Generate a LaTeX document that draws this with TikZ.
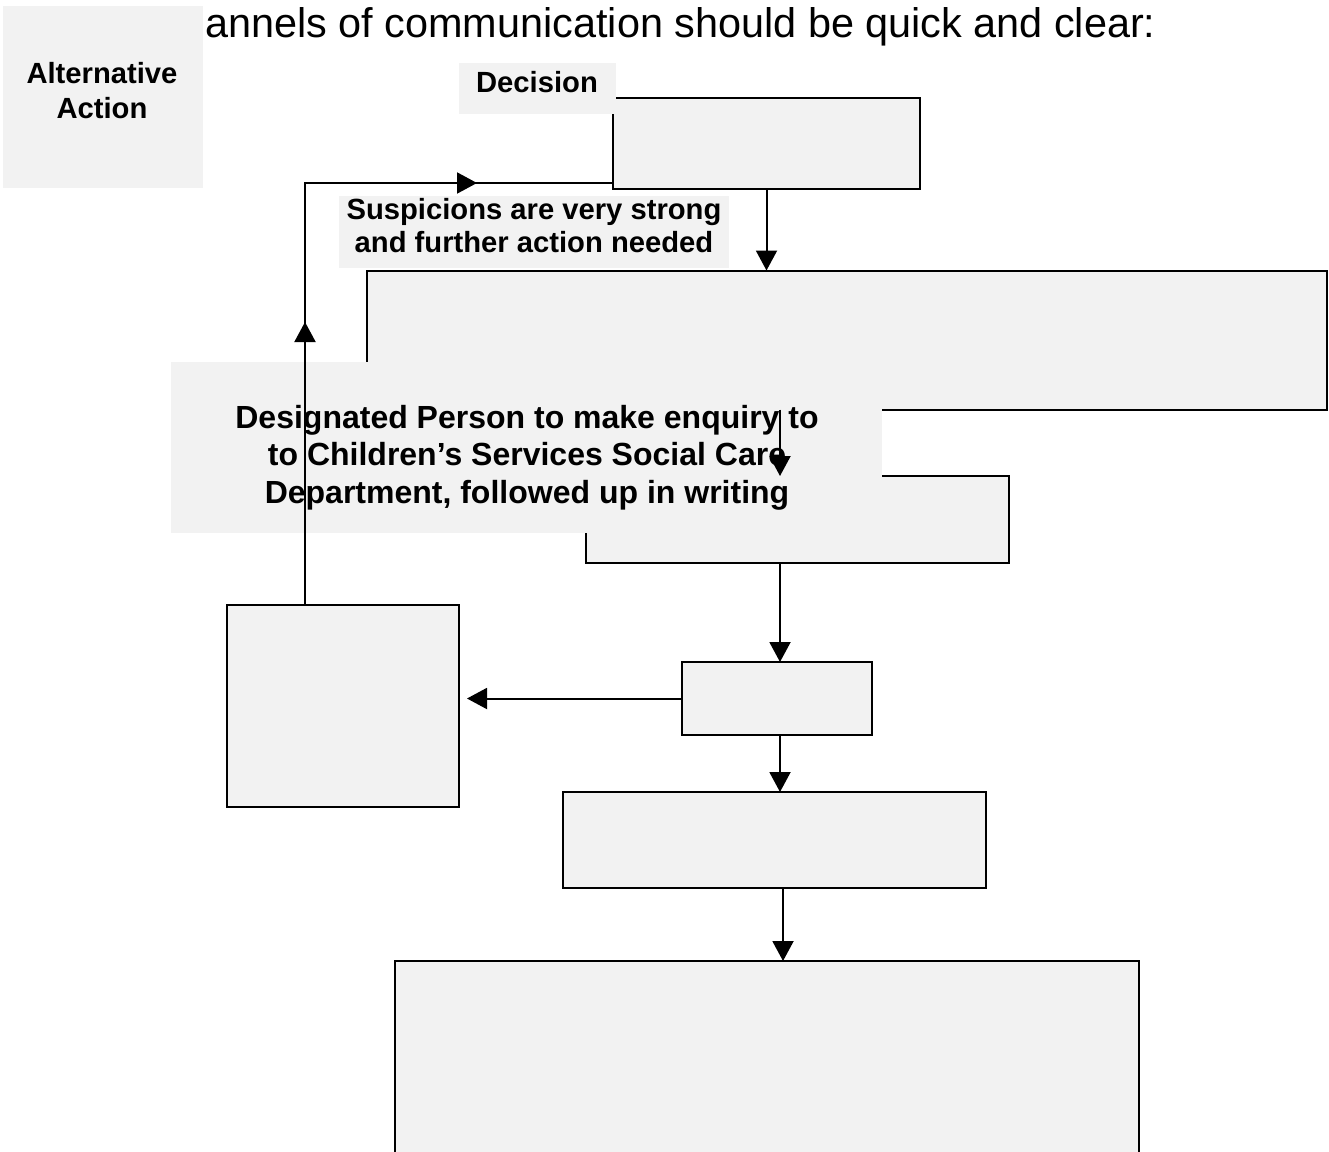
\documentclass[tikz,border=0pt]{standalone}
\usepackage{fontspec}
\setmainfont{Liberation Sans}
\usetikzlibrary{arrows.meta}
\definecolor{boxgray}{HTML}{F2F2F2}
\begin{document}
\begin{tikzpicture}[x=1pt,y=-1pt,
  box/.style={draw=black, line width=2pt, fill=boxgray, rectangle, anchor=north west, inner sep=0pt, outer sep=0pt},
  lab/.style={fill=boxgray, rectangle, anchor=north west, inner sep=0pt, outer sep=0pt},
  txt/.style={font=\bfseries\fontsize{29.2}{34}\selectfont, align=center, inner sep=0pt, anchor=north},
  conn/.style={line width=2pt},
  arr/.style={line width=2pt, -{Triangle[length=20pt,width=21pt]}},
]
\useasboundingbox (0,0) rectangle (1329,1151);
\clip (0,0) rectangle (1329,1151);
\fill[white] (0,0) rectangle (1329,1151);

% title
\node[anchor=base west, inner sep=0pt, font=\fontsize{41.4}{48}\selectfont] (title) at (205,37.5) {annels of communication should be quick and clear:};

% boxes
\node[box, minimum width=307pt, minimum height=91pt] (dec) at (613,98) {};
\node[box, minimum width=960pt, minimum height=139pt] (big1) at (367,270.5) {};
\node[box, minimum width=423pt, minimum height=87pt] (box2) at (586,476) {};
\node[box, minimum width=190pt, minimum height=73pt] (box3) at (682,662) {};
\node[box, minimum width=232pt, minimum height=202pt] (lbox) at (227,605) {};
\node[box, minimum width=423pt, minimum height=96pt] (box4) at (563,792) {};
\node[box, minimum width=744pt, minimum height=260pt] (box5) at (395,961) {};

% labels
\node[lab, minimum width=200pt, minimum height=182pt] (altlab) at (3,6) {};
\node[lab, minimum width=157pt, minimum height=51pt] (declab) at (459,63) {};
\node[lab, minimum width=390pt, minimum height=72pt] (suslab) at (339,196) {};
\node[lab, minimum width=711pt, minimum height=171pt] (deslab) at (171,362) {};

\node[txt, font=\bfseries\fontsize{29.2}{35}\selectfont] (alttxt) at (102,62) {Alternative\\Action};
\node[txt, anchor=base] (dectxt) at (537,92) {Decision};
\node[txt, font=\bfseries\fontsize{29.2}{33}\selectfont] (sustxt) at (534,198) {Suspicions are very strong\\and further action needed};
\node[txt, font=\bfseries\fontsize{32}{37.5}\selectfont] (destxt) at (527,405) {Designated Person to make enquiry to\\to Children’s Services Social Care\\Department, followed up in writing};

% connectors
\coordinate (ax) at (780,0);
\coordinate (ax2) at (783,0);
\draw[arr] (dec.south) -- (dec.south |- big1.north);
\draw[arr] (big1.south -| ax) -- (box2.north -| ax);
\draw[arr] (box2.south -| ax) -- (box3.north -| ax);
\draw[arr, shorten >=8pt] (box3.west) -- (box3.west -| lbox.east);
\draw[arr] (box3.south -| ax) -- (box4.north -| ax);
\draw[arr] (box4.south -| ax2) -- (box5.north -| ax2);

\coordinate (corner) at (305,183);
\coordinate (upmid) at (305,322);
\coordinate (rmid) at (477,183);
\draw[conn] (lbox.north -| corner) -- (corner) -- (corner -| dec.west);
\draw[arr] (lbox.north -| corner) -- (upmid);
\draw[arr] (corner) -- (rmid);
\end{tikzpicture}
\end{document}
